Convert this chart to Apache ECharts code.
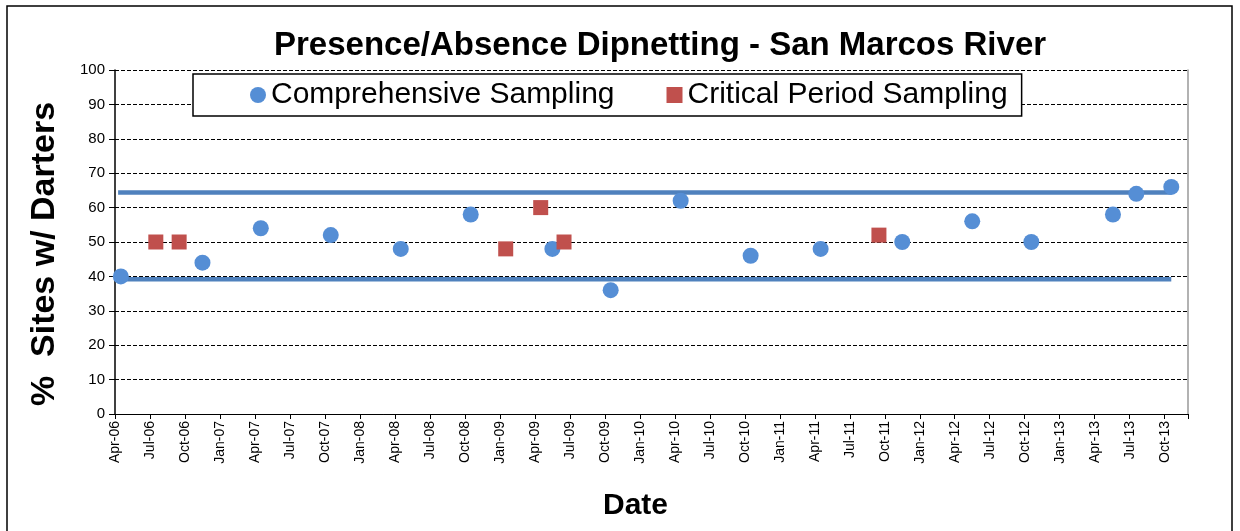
<!DOCTYPE html>
<html>
<head>
<meta charset="utf-8">
<title>Presence/Absence Dipnetting - San Marcos River</title>
<script src="https://cdn.jsdelivr.net/npm/echarts@6/dist/echarts.min.js"></script>
<style>
    html, body { margin: 0; padding: 0; background: #fff; }
    #chart { width: 1240px; height: 531px; }
</style>
</head>
<body>
<div id="chart"></div>
<script>
/* data */
var compDates = ['2006-04-16', '2006-11-16', '2007-04-16', '2007-10-16', '2008-04-16', '2008-10-16',
    '2009-05-16', '2009-10-16', '2010-04-16', '2010-10-16', '2011-04-16', '2011-11-16',
    '2012-05-16', '2012-10-18', '2013-05-18', '2013-07-18', '2013-10-18'];
var compValues = [40, 44, 54, 52, 48, 58, 48, 36, 62, 46, 48, 50, 56, 50, 58, 64, 66];

var critDates = ['2006-07-16', '2006-09-16', '2009-01-16', '2009-04-16', '2009-06-16', '2011-09-16'];
var critValues = [50, 50, 48, 60, 50, 52];

var bandDates = ['2006-04-09', '2013-10-18'];
var upperLimit = 64.4;
var lowerLimit = 39.2;

var xTickLabels = ['Apr-06', 'Jul-06', 'Oct-06', 'Jan-07', 'Apr-07', 'Jul-07', 'Oct-07', 'Jan-08',
    'Apr-08', 'Jul-08', 'Oct-08', 'Jan-09', 'Apr-09', 'Jul-09', 'Oct-09', 'Jan-10', 'Apr-10',
    'Jul-10', 'Oct-10', 'Jan-11', 'Apr-11', 'Jul-11', 'Oct-11', 'Jan-12', 'Apr-12', 'Jul-12',
    'Oct-12', 'Jan-13', 'Apr-13', 'Jul-13', 'Oct-13'];

// months since Apr 2006
function monthPos(s) {
    var p = s.split('-');
    return (Number(p[0]) - 2006) * 12 + (Number(p[1]) - 4) + (Number(p[2]) - 1) / 30;
}

function pairs(dates, values) {
    var out = [];
    for (var i = 0; i < dates.length; i++) {
        out.push([monthPos(dates[i]), values[i]]);
    }
    return out;
}

var font = "'Liberation Sans', Arial, sans-serif";
var myChart = echarts.init(document.getElementById('chart'));
var option = {
    animation: false,
    backgroundColor: '#fff',
    textStyle: { fontFamily: font },
    title: {
        text: 'Presence/Absence Dipnetting - San Marcos River',
        left: 274,
        top: 29,
        padding: 0,
        textStyle: { fontFamily: font, fontWeight: 'bold', fontSize: 33, color: '#000' }
    },
    legend: {
        left: 193,
        top: 74,
        padding: [6, 14, 6, 57],
        itemGap: 52,
        itemWidth: 16,
        itemHeight: 16,
        borderColor: '#000',
        borderWidth: 1.5,
        backgroundColor: '#fff',
        data: [
            { name: 'Comprehensive Sampling', icon: 'circle' },
            { name: 'Critical Period Sampling', icon: 'rect' }
        ],
        textStyle: { fontFamily: font, fontSize: 30, color: '#000' }
    },
    graphic: [{
        type: 'rect',
        shape: { x: 7, y: 6, width: 1225, height: 540 },
        style: { fill: 'none', stroke: '#000', lineWidth: 1.5 },
        silent: true
    }],
    grid: { left: 115, right: 52, top: 70, bottom: 117 },
    xAxis: {
        type: 'value',
        min: 0,
        max: 92,
        interval: 3,
        name: 'Date',
        nameLocation: 'middle',
        nameGap: 77,
        nameTextStyle: { fontFamily: font, fontWeight: 'bold', fontSize: 30, color: '#000', padding: [0, 32, 0, 0] },
        axisLine: { lineStyle: { color: '#000', width: 1 } },
        axisTick: { length: 5, lineStyle: { color: '#000' } },
        splitLine: { show: false },
        axisLabel: {
            rotate: 90,
            fontSize: 14,
            color: '#000',
            margin: 7,
            formatter: function (v) {
                return v % 3 === 0 ? (xTickLabels[v / 3] || '') : '';
            }
        }
    },
    yAxis: [{
        type: 'value',
        min: 0,
        max: 100,
        interval: 10,
        name: '%  Sites w/ Darters',
        nameLocation: 'middle',
        nameRotate: 90,
        nameGap: 53,
        nameTextStyle: { fontFamily: font, fontWeight: 'bold', fontSize: 34, color: '#000', padding: [0, 24, 0, 0] },
        axisLine: { show: true, lineStyle: { color: '#000', width: 1.5 } },
        axisTick: { show: true, length: 6, lineStyle: { color: '#000' } },
        axisLabel: { fontSize: 15, color: '#000', margin: 10 },
        splitLine: { lineStyle: { color: '#000', type: [4, 2], width: 1 } }
    }, {
        type: 'value',
        min: 0,
        max: 100,
        position: 'right',
        axisLine: { show: true, lineStyle: { color: '#999', width: 1.5 } },
        axisTick: { show: false },
        axisLabel: { show: false },
        splitLine: { show: false }
    }],
    series: [{
        name: 'upper',
        type: 'line',
        data: pairs(bandDates, [upperLimit, upperLimit]),
        showSymbol: false,
        lineStyle: { color: '#4F81BD', width: 4.5 },
        z: 2,
        silent: true
    }, {
        name: 'lower',
        type: 'line',
        data: pairs(bandDates, [lowerLimit, lowerLimit]),
        showSymbol: false,
        lineStyle: { color: '#4F81BD', width: 4.5 },
        z: 2,
        silent: true
    }, {
        name: 'Comprehensive Sampling',
        type: 'scatter',
        symbol: 'circle',
        symbolSize: 16,
        itemStyle: { color: '#558ED5', opacity: 1 },
        data: pairs(compDates, compValues),
        z: 5
    }, {
        name: 'Critical Period Sampling',
        type: 'scatter',
        symbol: 'rect',
        symbolSize: 15,
        itemStyle: { color: '#C0504D', opacity: 1 },
        data: pairs(critDates, critValues),
        z: 5
    }]
};
myChart.setOption(option);
</script>
</body>
</html>
